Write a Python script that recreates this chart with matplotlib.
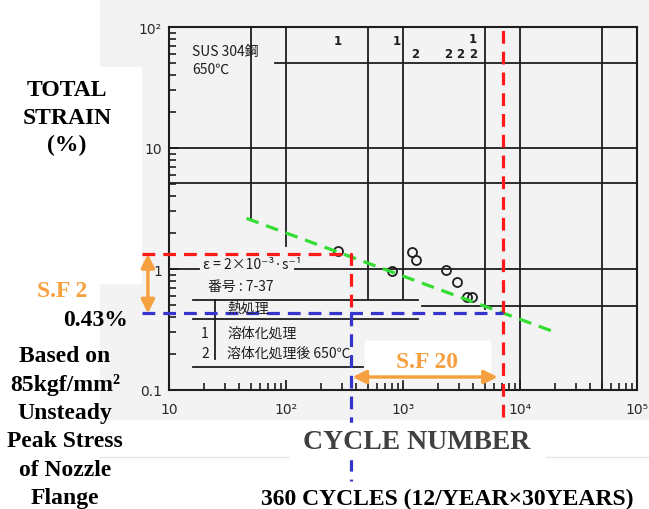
import numpy as np
import matplotlib.pyplot as plt
from matplotlib.patches import Rectangle

# fatigue test points (cycles, total strain %)
cycles = [278, 805, 1194, 1291, 2333, 2897, 3524, 3890]
strain = [1.41, 0.96, 1.38, 1.19, 0.98, 0.78, 0.59, 0.59]

# run-out markers along the top of the scanned chart
runout_x = [278, 889, 1268, 2427, 3070, 3965, 3965]
runout_y = [77, 77, 60, 60, 60, 60, 81]
runout_lbl = ['1', '1', '2', '2', '2', '2', '1']

xticks = [10, 1e2, 1e3, 1e4, 1e5]
xlabels = ['10', '10²', '10³', '10⁴', '10⁵']
yticks = [0.1, 1, 10, 100]
ylabels = ['0.1', '1', '10', '10²']

# printed grid of the scan: (position, from, to)
vgrid = [(50, 2.6, 100), (100, 1.55, 100), (500, 0.56, 100), (1000, 0.56, 100),
         (5000, 0.47, 100), (1e4, 0.1, 100), (5e4, 0.1, 100)]
hgrid = [(50, 80, 1e5), (10, 10, 1e5), (5.1, 10, 1e5), (1, 10, 18), (1, 119, 1e5),
         (0.49, 1450, 1e5), (0.555, 16, 1343), (0.386, 16, 1343), (0.155, 16, 455)]
table_div = (24.7, 0.18, 0.555)

# design annotations
strain_design = 0.43
strain_sf2 = 1.33
n_design = 360
n_sf20 = 7200
fit_x = [46, 20800]
fit_y = [2.62, 0.296]
left_end = 5.9      # where the dashed guides start, left of the axis
arrow_x = 6.6       # S.F 2 arrow position

RED = '#ff1a1a'
BLUE = '#3535cc'
GREEN = '#33dd33'
ORANGE = '#f7a040'
INK = '#1e1e1e'

W, H = 649, 510
fig = plt.figure(figsize=(W / 100, H / 100), dpi=100)


def fx(x):
    return x / W


def fy(y):
    return 1 - y / H


# scanned paper and the white boxes pasted over it
fig.add_artist(Rectangle((fx(100), fy(420)), fx(649) - fx(100), fy(0) - fy(420),
                         transform=fig.transFigure, color='#f3f3f3', zorder=-3))
fig.add_artist(Rectangle((0, fy(284)), fx(141), fy(68) - fy(284),
                         transform=fig.transFigure, color='white', zorder=-2))
fig.add_artist(plt.Line2D([fx(100), 1], [fy(458), fy(458)], transform=fig.transFigure,
                          color='#e6e6e6', lw=1, zorder=-2))

ax = fig.add_axes([fx(169), fy(391), fx(637) - fx(169), fy(28) - fy(391)])
ax.set_facecolor('none')
ax.set_xscale('log')
ax.set_yscale('log')
ax.set_xlim(10, 1e5)
ax.set_ylim(0.1, 100)
for s in ax.spines.values():
    s.set_color(INK)
    s.set_linewidth(1.5)

ax.set_xticks(xticks)
ax.set_xticklabels(xlabels)
ax.set_yticks(yticks)
ax.set_yticklabels(ylabels)
ax.tick_params(which='both', direction='in', color=INK, labelcolor='#2a2a2a', labelsize=10)
ax.tick_params(which='major', length=7, width=1.3)
ax.tick_params(which='minor', length=5, width=1.2)
ax.tick_params(axis='x', pad=9)
ax.tick_params(axis='y', pad=5)

for x, y0, y1 in vgrid:
    ax.plot([x, x], [y0, y1], color=INK, lw=1.3)
for y, x0, x1 in hgrid:
    ax.plot([x0, x1], [y, y], color=INK, lw=1.3)
ax.plot([table_div[0]] * 2, table_div[1:], color=INK, lw=1.3)

ax.plot(cycles, strain, 'o', mfc='none', mec=INK, mew=1.3, ms=6.5)
for x, y, t in zip(runout_x, runout_y, runout_lbl):
    ax.text(x, y, t, ha='center', va='center', fontsize=8.5, color=INK, fontweight='bold')

# chart notes from the scan
jp = ['Noto Sans CJK JP', 'DejaVu Sans']
notes = [(192, 52, 'SUS 304鋼'), (192, 70, '650℃'),
         (203, 265, 'ε = 2×10⁻³·s⁻¹'), (208, 287, '番号 : 7-37'),
         (227, 309, '熱処理'), (227, 334, '溶体化処理'), (227, 354, '溶体化処理後 650℃')]
for x, y, t in notes:
    fig.text(fx(x), fy(y), t, family=jp, fontsize=10, color=INK, va='center', ha='left')
fig.text(fx(205), fy(334), '1', family=jp, fontsize=10, color=INK, va='center', ha='center')
fig.text(fx(205), fy(354), '2', family=jp, fontsize=10, color=INK, va='center', ha='center')

# design guides
dash = (0, (4, 2.5))
ax.plot([left_end, n_design, n_design], [strain_sf2, strain_sf2, strain_design],
        color=RED, lw=2.3, ls=dash, clip_on=False, zorder=4)
ax.plot([n_sf20, n_sf20], [0.06, 106], color=RED, lw=2.3, ls=dash, clip_on=False, zorder=4)
ax.plot([left_end, n_sf20], [strain_design, strain_design], color=BLUE, lw=2.3, ls=dash,
        clip_on=False, zorder=4)
ax.plot([n_design, n_design], [strain_design, 0.0177], color=BLUE, lw=2.3, ls=dash,
        clip_on=False, zorder=4)
ax.plot(fit_x, fit_y, color=GREEN, lw=2.3, ls=dash, zorder=3)

ax.annotate('', xy=(arrow_x, strain_sf2), xytext=(arrow_x, strain_design),
            arrowprops=dict(arrowstyle='<|-|>', color=ORANGE, lw=2.5, mutation_scale=20,
                            shrinkA=0, shrinkB=0), annotation_clip=False)

# white label box under S.F 20, above the grid but below the arrow
ax.add_patch(Rectangle((fx(365), fy(380)), fx(490) - fx(365), fy(342) - fy(380),
                       transform=fig.transFigure, color='white', clip_on=False, zorder=4.5))
ax.annotate('', xy=(n_design, 0.128), xytext=(n_sf20, 0.128),
            arrowprops=dict(arrowstyle='<|-|>', color=ORANGE, lw=2.5, mutation_scale=20,
                            shrinkA=4, shrinkB=1), annotation_clip=False, zorder=5)
fig.add_artist(Rectangle((fx(290), fy(460)), fx(545) - fx(290), fy(424) - fy(460),
                         transform=fig.transFigure, color='white', zorder=1))

serif = 'Liberation Serif'
fig.text(fx(427), fy(368), 'S.F 20', family=serif, fontweight='bold', fontsize=17,
         color=ORANGE, ha='center', va='baseline', zorder=6)
fig.text(fx(62), fy(297), 'S.F 2', family=serif, fontweight='bold', fontsize=17,
         color=ORANGE, ha='center', va='baseline')
fig.text(fx(96), fy(326), '0.43%', family=serif, fontweight='bold', fontsize=17,
         color='black', ha='center', va='baseline')

for i, t in enumerate(['TOTAL', 'STRAIN', '(%)']):
    fig.text(fx(67), fy(96 + 27.5 * i), t, family=serif, fontweight='bold', fontsize=17,
             ha='center', va='baseline')
for i, t in enumerate(['Based on', '85kgf/mm²', 'Unsteady', 'Peak Stress',
                       'of Nozzle', 'Flange']):
    fig.text(fx(65), fy(362 + 28.5 * i), t, family=serif, fontweight='bold', fontsize=17,
             ha='center', va='baseline')

fig.text(fx(417), fy(449), 'CYCLE NUMBER', family=serif, fontweight='bold', fontsize=20,
         color='#404040', ha='center', va='baseline', zorder=6)
fig.text(fx(447), fy(505), '360 CYCLES (12/YEAR×30YEARS)', family=serif, fontweight='bold',
         fontsize=17, ha='center', va='baseline')

fig.savefig('out.png', dpi=100)
